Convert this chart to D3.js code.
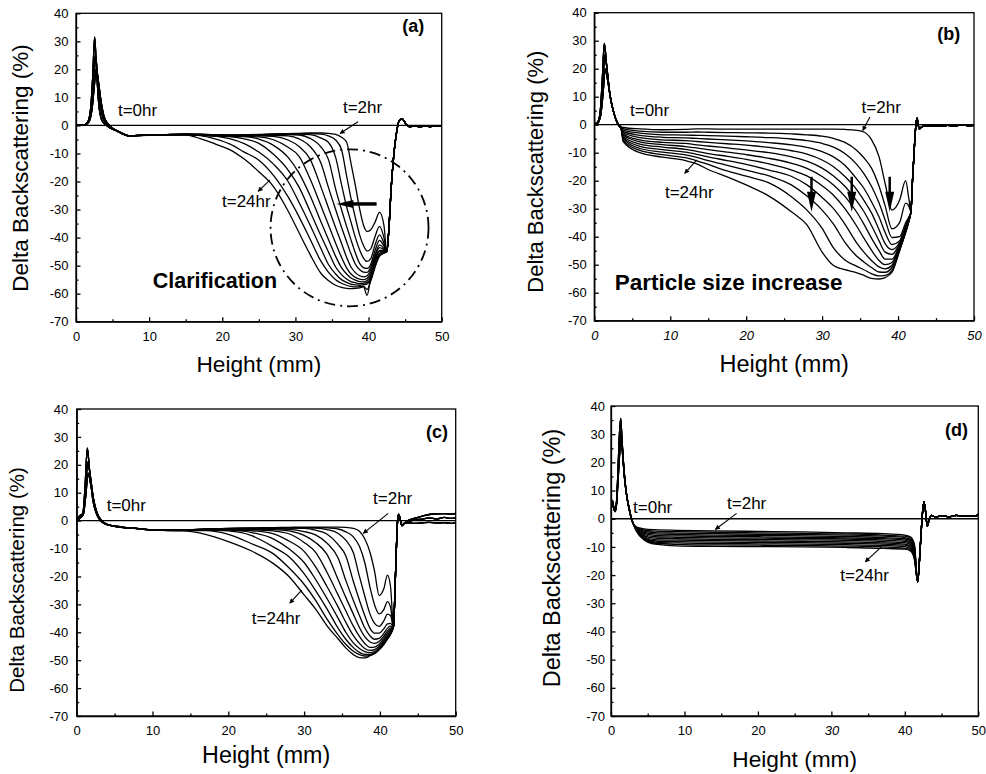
<!DOCTYPE html>
<html>
<head>
<meta charset="utf-8">
<script src="https://cdn.jsdelivr.net/npm/d3@7"></script>
<style>
body { margin: 0; background: #fff; }
svg { display: block; font-family: "Liberation Sans", Arial, sans-serif; }
.axis path, .axis line { stroke: #000; stroke-width: 1.3; }
.axis text { font-size: 13px; fill: #000; font-family: "Liberation Sans", Arial, sans-serif; }
.curve { fill: none; stroke: #000; stroke-width: 1.3; }
.frame { fill: none; stroke: #000; stroke-width: 1.3; }
</style>
</head>
<body>
<svg id="chart" width="986" height="774"></svg>
<script>
// ---- shared ticks / labels ----
var yTicks = [-70, -60, -50, -40, -30, -20, -10, 0, 10, 20, 30, 40];
var yMinor = [-65, -55, -45, -35, -25, -15, -5, 5, 15, 25, 35];
var xTicks = [0, 10, 20, 30, 40, 50];
var xMinor = [5, 15, 25, 35, 45];
var timeLabels = ["t=0hr", "t=2hr", "t=24hr"];
var panelLetters = ["(a)", "(b)", "(c)", "(d)"];
var panelNotes = ["Clarification", "Particle size increase"];
var baseline = [[0, 0], [50, 0]];   // t=0hr reference profile

// ---- panel (a): clarification ----
var headsA = [
    [[0,0],[1.0,0.1],[1.6,1.2],[2.0,6],[2.3,18],[2.55,31.5],[2.8,20],[3.1,8],[3.5,2],[4.0,0.3],[4.6,-0.8],[5.5,-1.8],[6.5,-3],[7.2,-3.7]],
    [[0,0],[1.0,0.1],[1.6,1.0],[2.1,7],[2.4,17],[2.65,25],[2.95,18],[3.3,8],[3.7,2.5],[4.2,0.3],[4.8,-1],[5.6,-2],[6.5,-3.1],[7.2,-3.7]],
    [[0,0],[1.1,0.1],[1.7,1],[2.2,6],[2.5,14],[2.75,20],[3.05,16],[3.4,9],[3.8,3.5],[4.3,0.8],[4.9,-0.8],[5.7,-2],[6.5,-3.2],[7.2,-3.7]],
];
var heightsA = [8, 12, 15, 17, 19, 21, 23, 25, 27, 29, 30.5, 32, 33.5, 34.5, 35.5, 36.3, 37, 37.6, 38.2, 38.8, 39.3, 39.8, 40.3, 40.9, 41.5, 42.1, 42.5];
var seriesA = [
    [-3.6,-3.3,-3.0,-3.1,-3.3,-3.4,-3.3,-3.2,-3.0,-2.9,-2.8,-2.7,-2.7,-2.8,-3.2,-4.2,-6.0,-13.5,-21.5,-30,-35.5,-37.8,-37.2,-34.4,-31,-35.6,-45],
    [-3.6,-3.3,-3.1,-3.2,-3.4,-3.5,-3.4,-3.3,-3.1,-3.0,-2.9,-2.9,-3.1,-3.7,-5.2,-8.6,-18,-26,-33,-39.2,-42.8,-44.8,-44,-39.5,-36,-40,-45],
    [-3.6,-3.3,-3.1,-3.2,-3.4,-3.5,-3.5,-3.4,-3.2,-3.1,-3.1,-3.3,-4.5,-6,-11.4,-21,-29,-34.5,-40,-44.5,-47.3,-48.5,-47.5,-42.5,-39,-42,-45],
    [-3.6,-3.3,-3.1,-3.2,-3.4,-3.6,-3.6,-3.5,-3.4,-3.3,-3.4,-4.6,-7.7,-12,-22.7,-30,-36,-40.8,-45.5,-49.3,-50.7,-51,-49.5,-44.5,-41,-43,-45],
    [-3.6,-3.4,-3.2,-3.3,-3.5,-3.7,-3.7,-3.6,-3.5,-3.7,-4.8,-7.5,-13.5,-22,-30,-36.3,-41.5,-45.8,-49.5,-51.5,-52.3,-52.4,-50.5,-46,-42.6,-43.8,-45],
    [-3.6,-3.4,-3.2,-3.4,-3.6,-3.8,-3.8,-3.7,-3.9,-5.2,-7.5,-12,-22,-29.3,-36.5,-42,-47,-50.5,-52.5,-53.6,-54,-53.6,-51.5,-46.5,-43.6,-44.3,-45],
    [-3.6,-3.4,-3.3,-3.5,-3.7,-3.9,-3.9,-4.1,-5.1,-7.8,-11,-19,-28.7,-35.3,-42,-47,-50.8,-53,-54.2,-54.8,-55,-54.5,-52.5,-47.5,-44.6,-44.6,-45],
    [-3.6,-3.4,-3.3,-3.5,-3.7,-3.9,-4.0,-4.9,-7.1,-11.4,-17,-25,-34.4,-40.6,-46.7,-50.7,-53,-54.4,-55.2,-55.7,-55.8,-55.3,-53.5,-48,-45,-44.8,-45],
    [-3.6,-3.4,-3.3,-3.5,-3.7,-4.0,-4.8,-6.4,-10.3,-15.9,-22,-30.6,-39.4,-45,-50.5,-53.2,-54.8,-55.7,-56.1,-56.4,-56.3,-56,-54.5,-49,-45.7,-45,-45],
    [-3.6,-3.4,-3.3,-3.5,-3.8,-4.7,-6.5,-9.5,-13.8,-20,-27.5,-35.5,-44,-49.5,-53,-55,-56,-56.6,-56.9,-57,-56.8,-56.5,-55,-50,-46.3,-45.3,-45],
    [-3.6,-3.4,-3.3,-3.6,-4.8,-6.6,-9.5,-12.4,-17.8,-25.5,-32.6,-40.5,-48.5,-52.3,-55,-56.3,-57,-57.4,-57.6,-57.5,-57.3,-58.5,-55.5,-50.5,-46.6,-45.5,-45],
    [-3.6,-3.4,-3.4,-4.7,-6.6,-8.6,-12,-16.5,-21.8,-30.5,-38.3,-46,-52.8,-55.3,-57,-57.8,-58.1,-58.2,-58.1,-57.9,-57.6,-60.6,-54,-48,-46.3,-45.6,-45],
];
var tailsA = [
    [[42.8,-36],[43.1,-22],[43.4,-12],[43.8,-3],[44.2,1.8],[44.6,2.3],[45.1,0.6],[45.6,-0.5],[46.3,-0.2],[47,-0.5],[47.8,-0.2],[48.5,-0.4],[49.2,-0.1],[50,-0.3]],
];

// ---- panel (b): particle size increase ----
var headsB = [
    [[0,0.3],[0.4,0.8],[0.75,4],[1.05,16],[1.32,29],[1.6,22],[2.0,12],[2.5,5],[3.0,1],[3.3,-0.3],[3.5,-0.8]],
    [[0,0.2],[0.4,0.6],[0.8,4],[1.1,14],[1.4,25],[1.7,19],[2.1,10],[2.6,4],[3.05,0.5],[3.3,-0.5],[3.5,-1]],
    [[0,0.1],[0.45,0.5],[0.85,3.5],[1.15,11],[1.45,20],[1.75,16],[2.15,9],[2.65,3.5],[3.05,0.5],[3.3,-0.6],[3.5,-1.2]],
];
var heightsB = [3.8, 6, 9, 12, 13.5, 15, 17.5, 20, 23, 26, 28, 30, 31.5, 33, 34.5, 35.5, 36.5, 37.5, 38.3, 39.2, 40.2, 41.0, 41.4, 41.7];
var seriesB = [
    [-1.0,-1.5,-1.8,-1.7,-1.5,-1.5,-1.6,-1.6,-1.6,-1.6,-1.6,-1.6,-1.6,-1.7,-2.0,-2.6,-5.3,-11.5,-21,-30.5,-27,-20,-26,-31],
    [-1.4,-2.3,-2.7,-2.7,-2.6,-2.7,-2.8,-2.9,-3.0,-3.3,-3.6,-4.1,-4.9,-6.3,-9,-11.8,-15.5,-22,-29,-37.2,-35,-28,-29,-31],
    [-1.9,-3.0,-3.6,-3.7,-3.8,-3.9,-4.1,-4.3,-4.6,-5.1,-5.7,-6.7,-8,-10.3,-14,-17.5,-22,-28,-34,-40.3,-40,-35,-33,-31],
    [-2.4,-3.8,-4.5,-4.7,-4.9,-5.1,-5.4,-5.8,-6.4,-7.2,-8.1,-9.6,-11.5,-14.5,-19.2,-22.7,-27.5,-33,-38.5,-42.8,-41.5,-36,-33.5,-31],
    [-2.8,-4.6,-5.4,-5.7,-6.0,-6.3,-6.8,-7.3,-8.1,-9.3,-10.5,-12.6,-15,-18.5,-23,-27,-31.5,-37.5,-42.5,-44.6,-42,-36.5,-33.8,-31],
    [-3.3,-5.4,-6.3,-6.7,-7.2,-7.6,-8.3,-9,-10,-11.5,-13,-15.5,-18.3,-22,-27,-31,-36,-41.5,-45.5,-46.3,-42.5,-37,-34,-31],
    [-3.7,-6.1,-7.1,-7.8,-8.3,-8.9,-9.8,-10.7,-12,-13.8,-15.6,-18.5,-21.5,-25.6,-31,-35.5,-40.5,-45,-48,-48,-43,-37.5,-34.3,-31],
    [-4.2,-6.9,-8.0,-8.8,-9.5,-10.3,-11.3,-12.4,-14,-16.2,-18.3,-21.8,-25.2,-30,-36,-40.5,-44.8,-48.5,-50,-49.2,-43.5,-37.8,-34.5,-31],
    [-4.6,-7.7,-8.9,-9.8,-10.6,-11.5,-12.8,-14.2,-16.2,-18.5,-21.5,-26,-30,-35.5,-42,-45.5,-48.5,-50.8,-51.5,-50.2,-44,-38,-34.5,-31],
    [-5.0,-8.5,-9.8,-10.8,-11.7,-12.8,-14.5,-16.2,-18.3,-21.6,-25.5,-30.5,-35.5,-42,-46.8,-49,-51,-52.6,-52.7,-51,-44.5,-38.5,-34.8,-31],
    [-5.5,-9.2,-10.7,-11.8,-12.9,-14.2,-16.5,-18.4,-20.8,-25.8,-30.5,-37,-44,-48.3,-50.5,-51.8,-53.2,-54,-53.8,-52,-45,-38.5,-34.8,-31],
    [-6.0,-10.0,-11.6,-12.8,-14.0,-16,-18.6,-21.5,-25.5,-31.2,-35.8,-45.5,-50.3,-51.8,-52.8,-53.8,-54.9,-55.1,-54.6,-52.7,-45,-38,-34.5,-31],
];
var tailsB = [
    [[41.9,-20],[42.15,-8],[42.35,0],[42.5,2.3],[42.65,0],[42.8,-1.5],[43.1,-0.8],[43.6,-0.5],[44.5,-0.3],[45.5,-0.6],[46.5,-0.2],[47.5,-0.4],[48.5,-0.1],[49.3,-0.3],[50,-0.2]],
];

// ---- panel (c) ----
var headsC = [
    [[0,0.5],[0.4,1.8],[0.8,2.5],[1.1,12],[1.4,26],[1.7,18],[2.1,8],[2.6,2.5],[3.1,0],[3.6,-1],[4.5,-1.7],[5.5,-2.1],[6.3,-2.4]],
    [[0,0.3],[0.4,1.2],[0.8,2.2],[1.15,10],[1.45,21],[1.8,16],[2.2,8],[2.7,2.5],[3.2,0.2],[3.8,-1.1],[4.6,-1.8],[5.5,-2.2],[6.3,-2.5]],
    [[0,0.1],[0.5,1],[0.9,2.5],[1.2,9],[1.5,17],[1.85,13],[2.3,6.5],[2.8,2],[3.3,0],[3.9,-1.2],[4.7,-1.9],[5.5,-2.3],[6.3,-2.5]],
];
var heightsC = [7, 10, 14, 17, 20, 23, 26, 28, 30, 31.5, 33, 34.5, 35.5, 36.5, 37.3, 38, 38.7, 39.3, 39.9, 40.5, 41.0, 41.4, 41.8];
var seriesC = [
    [-2.6,-3.3,-3.4,-3.0,-2.8,-2.6,-2.5,-2.4,-2.3,-2.3,-2.3,-2.3,-2.4,-2.8,-3.8,-6.5,-11.4,-18.2,-26.8,-24.5,-19.5,-23.5,-38],
    [-2.6,-3.3,-3.4,-3.0,-2.8,-2.7,-2.6,-2.5,-2.5,-2.5,-2.6,-3.0,-4.0,-5.8,-9.2,-15,-24,-30.2,-33.4,-32,-29,-31,-38],
    [-2.6,-3.3,-3.4,-3.0,-2.9,-2.8,-2.7,-2.6,-2.6,-2.7,-3.2,-4.6,-7,-11.5,-20,-27,-33.5,-36.8,-37.9,-36,-33.5,-34,-38],
    [-2.6,-3.3,-3.4,-3.1,-3.0,-2.9,-2.8,-2.7,-2.8,-3.4,-4.8,-8.6,-12.6,-21.8,-28.5,-34,-38.6,-40.3,-40.3,-38.8,-37,-36.8,-38],
    [-2.6,-3.3,-3.4,-3.1,-3.0,-3.0,-2.9,-3.1,-3.9,-5.1,-8,-13.5,-21.4,-28.6,-34,-38.4,-41.3,-42.5,-42.2,-40.5,-38.5,-37.8,-38],
    [-2.6,-3.3,-3.5,-3.2,-3.1,-3.1,-3.2,-3.7,-5.3,-7.8,-12,-21.2,-27.5,-33.5,-38.3,-41.6,-43.5,-44,-43.3,-41.5,-39.5,-38.5,-38],
    [-2.6,-3.3,-3.5,-3.2,-3.2,-3.3,-3.7,-4.7,-7.8,-11.3,-18.4,-26.7,-32.3,-37.8,-41.5,-44,-45.4,-45.3,-44.3,-42.3,-40.3,-39,-38],
    [-2.6,-3.3,-3.5,-3.3,-3.3,-3.6,-4.7,-7.3,-11,-16.5,-23.5,-31,-36.4,-41.2,-44,-45.8,-46.5,-46.2,-45,-43,-41,-39.5,-38],
    [-2.6,-3.3,-3.5,-3.3,-3.4,-4.2,-6.6,-10.1,-15,-21,-27.8,-35,-40,-43.8,-45.8,-46.9,-47.3,-46.9,-45.6,-43.5,-41.5,-40,-38],
    [-2.6,-3.3,-3.6,-3.4,-3.7,-5.3,-9.5,-12.9,-19,-25,-31.5,-38.6,-42.5,-45.5,-47.2,-47.9,-47.9,-47.4,-46,-44,-42,-40.4,-38],
    [-2.6,-3.3,-3.6,-3.6,-4.9,-8.2,-12,-16.9,-22.8,-28.5,-35.2,-41,-44.3,-46.8,-48,-48.5,-48.3,-47.7,-46.3,-44.3,-42.3,-40.6,-38],
    [-2.6,-3.3,-3.6,-4.9,-7.5,-10.8,-15.5,-20,-26.6,-31.6,-37.6,-42.4,-45.6,-48,-49.1,-49.2,-48.4,-47.4,-46.2,-44.5,-42.5,-40.8,-38],
];
var tailsC = [
    [[42.0,-24],[42.2,-8],[42.35,0.5],[42.5,2.2],[42.7,0.2],[42.9,-1.8],[43.2,-1],[43.8,0.2],[44.5,0.8],[45.5,1.5],[46.5,2.2],[47.5,2.4],[48.5,2.5],[49.3,2.3],[50,2.6]],
    [[42.0,-24],[42.2,-8],[42.35,0.5],[42.5,2.2],[42.7,0.2],[42.9,-1.8],[43.2,-1],[43.8,-0.5],[44.5,0.3],[45.5,0.5],[46.5,1],[47.5,0.6],[48.5,1.2],[49.3,0.8],[50,1.0]],
    [[42.0,-24],[42.2,-8],[42.35,0.5],[42.5,2.2],[42.7,0.2],[42.9,-1.8],[43.2,-1],[43.8,-0.8],[44.5,-1],[45.5,-0.8],[46.5,-0.6],[47.5,-0.9],[48.5,-0.7],[49.3,-1],[50,-0.8]],
];

// ---- panel (d) ----
var headsD = [
    [[0,5.5],[0.2,6.5],[0.35,4.5],[0.55,3],[0.75,6],[0.95,17],[1.15,30],[1.32,35.6],[1.5,28],[1.75,18],[2.1,9],[2.5,3.5],[2.8,0]],
    [[0,5],[0.2,6],[0.35,4],[0.55,2.8],[0.75,5.5],[0.95,15],[1.15,26],[1.35,31],[1.55,25],[1.8,16],[2.15,8],[2.5,3],[2.8,-0.2]],
    [[0,4.5],[0.2,5.5],[0.35,3.8],[0.55,2.5],[0.75,5],[0.95,13],[1.18,23],[1.38,28],[1.6,22],[1.85,14],[2.2,7],[2.55,2.5],[2.8,-0.3]],
];
var heightsD = [3.0, 3.5, 4.5, 6, 9, 14, 20, 26, 32, 37, 40, 40.8, 41.3];
var seriesD = [
    [-1.6,-3.0,-3.6,-3.9,-4.1,-4.3,-4.5,-4.7,-5.0,-5.3,-5.8,-6.5,-9],
    [-1.6,-3.2,-4.0,-4.4,-4.6,-4.8,-5.0,-5.2,-5.4,-5.8,-6.2,-7,-9.5],
    [-1.6,-3.3,-4.4,-4.9,-5.1,-5.3,-5.5,-5.6,-5.8,-6.2,-6.7,-7.4,-10],
    [-1.6,-3.5,-4.8,-5.4,-5.6,-5.8,-5.9,-6.1,-6.3,-6.7,-7.1,-7.8,-10.5],
    [-1.6,-3.6,-5.2,-5.9,-6.1,-6.3,-6.4,-6.6,-6.8,-7.1,-7.6,-8.3,-11],
    [-1.6,-3.8,-5.6,-6.4,-6.6,-6.8,-6.9,-7.0,-7.2,-7.6,-8.0,-8.7,-11.5],
    [-1.6,-3.9,-6.0,-6.9,-7.1,-7.3,-7.4,-7.5,-7.7,-8.1,-8.5,-9.2,-12],
    [-1.6,-4.1,-6.4,-7.4,-7.6,-7.8,-7.9,-8.0,-8.2,-8.6,-9.0,-9.7,-12.5],
    [-1.6,-4.2,-6.7,-7.9,-8.1,-8.3,-8.4,-8.5,-8.7,-9.0,-9.4,-10.1,-13],
    [-1.6,-4.3,-7.0,-8.3,-8.6,-8.8,-8.9,-9.0,-9.2,-9.5,-9.9,-10.6,-13.5],
    [-1.6,-4.5,-7.3,-8.7,-9.1,-9.3,-9.4,-9.5,-9.7,-10.0,-10.4,-11.0,-14],
    [-1.6,-4.6,-7.5,-9.0,-9.6,-9.8,-9.9,-10.0,-10.2,-10.5,-10.8,-11.5,-14.5],
];
var tailsD = [
    [[41.75,-22.4],[42.1,-10],[42.4,2],[42.6,6],[42.8,3],[43.05,-2.6],[43.3,-0.5],[43.6,1.2],[44.2,0.6],[45,1.1],[46,0.7],[47,1.2],[48,0.9],[49,1.1],[49.6,0.8],[50,1.6]],
];

// ---- layout (pixel boxes, annotation placement in data units) ----
var panels = [
    {id: "a", left: 76, right: 441.7, top: 13.3, bottom: 321.7,
     heads: headsA, heights: heightsA, series: seriesA, tails: tailsA,
     yTitle: {x: 27.8, y: 168, size: 22.5}, xTitle: {y: 372, size: 22.7}, yPad: 7.5, xItalic: [],
     texts: [[5.74, 3.3], [36.5, 4.4], [19.96, -29.2]],
     arrows: [[38.56, 1.3, 36.1, -2.9], [26.5, -19.5, 24.9, -23.5]],
     letter: [47.6, 33.3], note: {i: 0, x: 10.5, y: -58.1, size: 21.5},
     ellipse: {cx: 37.4, cy: -36.5, rx: 10.8, ry: 28},
     leftArrow: {x1: 41.1, x2: 35.6, y: -28}},
    {id: "b", left: 594.3, right: 974, top: 12.7, bottom: 320.7,
     heads: headsB, heights: heightsB, series: seriesB, tails: tailsB,
     yTitle: {x: 542.5, y: 171.7, size: 22}, xTitle: {y: 371.7, size: 23.5}, yPad: 7.5, xItalic: [0, 10, 20, 30, 40, 50],
     texts: [[4.7, 3.1], [35.2, 4.2], [9.3, -26.2]],
     arrows: [[36.3, 2.75, 35.35, -2.1], [13.5, -12.6, 11.9, -17.4]],
     letter: [48.2, 30.25], note: {i: 1, x: 2.7, y: -59, size: 22.5},
     downArrows: {xs: [28.6, 33.9, 38.9], y1: -18.6, y2: -31.1}},
    {id: "c", left: 76.7, right: 455.7, top: 409, bottom: 716,
     heads: headsC, heights: heightsC, series: seriesC, tails: tailsC,
     yTitle: {x: 24, y: 580, size: 20.5}, xTitle: {y: 763.3, size: 23.3}, yPad: 8.4, xItalic: [],
     texts: [[3.96, 3.5], [39.1, 5.8], [23.1, -37.2]],
     arrows: [[41.1, 2.6, 37.8, -4.55], [29.7, -24.9, 28.1, -29.6]],
     letter: [49.0, 29.6]},
    {id: "d", left: 611, right: 978.3, top: 406, bottom: 716,
     heads: headsD, heights: heightsD, series: seriesD, tails: tailsD,
     yTitle: {x: 560, y: 558, size: 23.5}, xTitle: {y: 766.7, size: 22.7}, yPad: 6, xItalic: [30],
     texts: [[3.0, 2.0], [15.8, 3.4], [31.2, -22.1]],
     arrows: [[17.1, 1.9, 14.2, -3.8], [36.85, -9.9, 34.6, -15.3]],
     letter: [48.6, 29.3]},
];

var svg = d3.select("#chart");
svg.append("rect").attr("width", 986).attr("height", 774).attr("fill", "#fff");

var defs = svg.append("defs");
defs.append("marker")
    .attr("id", "head")
    .attr("viewBox", "0 0 10 10")
    .attr("refX", 9).attr("refY", 5)
    .attr("markerWidth", 7).attr("markerHeight", 5)
    .attr("markerUnits", "userSpaceOnUse")
    .attr("orient", "auto")
    .append("path").attr("d", "M0,0L10,5L0,10z").attr("fill", "#000");

panels.forEach(drawPanel);

function drawPanel(p) {
    var x = d3.scaleLinear().domain([0, 50]).range([p.left, p.right]);
    var y = d3.scaleLinear().domain([-70, 40]).range([p.bottom, p.top]);
    var g = svg.append("g").attr("class", "panel-" + p.id);

    defs.append("clipPath").attr("id", "clip-" + p.id)
        .append("rect")
        .attr("x", p.left).attr("y", p.top)
        .attr("width", p.right - p.left).attr("height", p.bottom - p.top);

    var plot = g.append("g").attr("clip-path", "url(#clip-" + p.id + ")");
    var line = d3.line()
        .x(d => x(d[0]))
        .y(d => y(d[1]))
        .curve(d3.curveMonotoneX);

    var curves = p.series.map((ys, i) =>
        p.heads[i % p.heads.length]
            .concat(p.heights.map((h, j) => [h, ys[j]]))
            .concat(p.tails[i % p.tails.length])
    );

    plot.selectAll("path.curve")
        .data(curves)
        .enter().append("path")
        .attr("class", "curve")
        .attr("d", line);

    plot.append("path")
        .datum(baseline)
        .attr("class", "curve")
        .attr("stroke-width", 1.1)
        .attr("d", line);

    // axes (ticks inside)
    var fmt = d => String(d);
    var xa = g.append("g").attr("class", "axis")
        .attr("transform", `translate(0,${p.bottom})`)
        .call(d3.axisBottom(x).tickValues(xTicks).tickSize(-4.5).tickSizeOuter(0).tickPadding(10).tickFormat(fmt));
    xa.selectAll("text").style("font-style", d => p.xItalic.indexOf(d) >= 0 ? "italic" : null);
    g.append("g").attr("class", "axis")
        .attr("transform", `translate(0,${p.bottom})`)
        .call(d3.axisBottom(x).tickValues(xMinor).tickSize(-2.5).tickFormat(""))
        .select(".domain").remove();
    g.append("g").attr("class", "axis")
        .attr("transform", `translate(${p.left},0)`)
        .call(d3.axisLeft(y).tickValues(yTicks).tickSize(-4.5).tickSizeOuter(0).tickPadding(p.yPad).tickFormat(fmt));
    g.append("g").attr("class", "axis")
        .attr("transform", `translate(${p.left},0)`)
        .call(d3.axisLeft(y).tickValues(yMinor).tickSize(-2.5).tickFormat(""))
        .select(".domain").remove();

    g.append("rect").attr("class", "frame")
        .attr("x", p.left).attr("y", p.top)
        .attr("width", p.right - p.left).attr("height", p.bottom - p.top);

    // titles
    g.append("text")
        .attr("transform", `translate(${p.yTitle.x},${p.yTitle.y}) rotate(-90)`)
        .attr("text-anchor", "middle")
        .attr("font-size", p.yTitle.size)
        .text("Delta Backscattering (%)");
    g.append("text")
        .attr("x", (p.left + p.right) / 2).attr("y", p.xTitle.y)
        .attr("text-anchor", "middle")
        .attr("font-size", p.xTitle.size)
        .text("Height (mm)");

    // annotations
    g.selectAll("text.time")
        .data(p.texts)
        .enter().append("text")
        .attr("class", "time")
        .attr("x", d => x(d[0])).attr("y", d => y(d[1]))
        .attr("font-size", 17)
        .text((d, i) => timeLabels[i]);

    g.selectAll("line.pointer")
        .data(p.arrows)
        .enter().append("line")
        .attr("class", "pointer")
        .attr("x1", d => x(d[0])).attr("y1", d => y(d[1]))
        .attr("x2", d => x(d[2])).attr("y2", d => y(d[3]))
        .attr("stroke", "#000").attr("stroke-width", 1.1)
        .attr("marker-end", "url(#head)");

    g.append("text")
        .attr("x", x(p.letter[0])).attr("y", y(p.letter[1]))
        .attr("text-anchor", "end")
        .attr("font-size", 18).attr("font-weight", "bold")
        .text(panelLetters["abcd".indexOf(p.id)]);

    if (p.note) {
        g.append("text")
            .attr("x", x(p.note.x)).attr("y", y(p.note.y))
            .attr("font-size", p.note.size).attr("font-weight", "bold")
            .text(panelNotes[p.note.i]);
    }

    if (p.ellipse) {
        var e = p.ellipse;
        g.append("ellipse")
            .attr("cx", x(e.cx)).attr("cy", y(e.cy))
            .attr("rx", x(e.cx + e.rx) - x(e.cx))
            .attr("ry", y(e.cy - e.ry) - y(e.cy))
            .attr("fill", "none").attr("stroke", "#000")
            .attr("stroke-width", 1.8)
            .attr("stroke-dasharray", "11,5,2,5");
    }

    if (p.leftArrow) {
        var a = p.leftArrow, ay = y(a.y), tip = x(a.x2);
        g.append("line")
            .attr("x1", x(a.x1)).attr("x2", tip + 14)
            .attr("y1", ay).attr("y2", ay)
            .attr("stroke", "#000").attr("stroke-width", 3.5);
        g.append("path")
            .attr("d", `M${tip},${ay}L${tip + 17},${ay - 4}L${tip + 17},${ay + 4}Z`)
            .attr("fill", "#000");
    }

    if (p.downArrows) {
        var da = p.downArrows;
        g.selectAll("g.down")
            .data(da.xs)
            .enter().append("g")
            .attr("class", "down")
            .each(function(d) {
                var px = x(d), top = y(da.y1), tipY = y(da.y2);
                d3.select(this).append("line")
                    .attr("x1", px).attr("x2", px)
                    .attr("y1", top).attr("y2", tipY - 12)
                    .attr("stroke", "#000").attr("stroke-width", 2.5);
                d3.select(this).append("path")
                    .attr("d", `M${px},${tipY}L${px - 4.5},${tipY - 20}L${px + 4.5},${tipY - 20}Z`)
                    .attr("fill", "#000");
            });
    }
}
</script>
</body>
</html>
